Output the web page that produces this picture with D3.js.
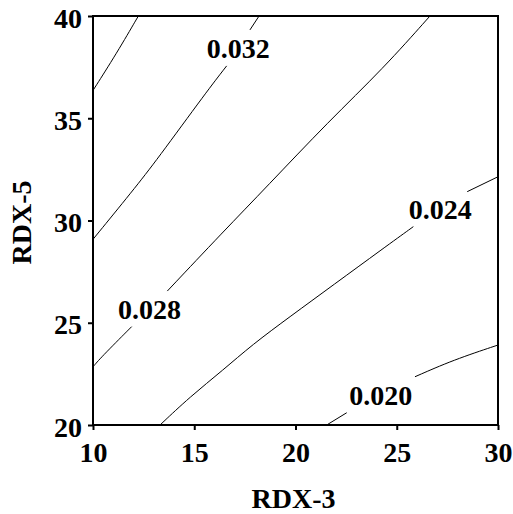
<!DOCTYPE html>
<html>
<head>
<meta charset="utf-8">
<script src="https://cdn.jsdelivr.net/npm/d3@7"></script>
<style>
  body { margin: 0; background: #fff; }
  text { font-family: "Liberation Serif", "Times New Roman", serif; font-weight: bold; fill: #000; }
</style>
</head>
<body>
<div id="chart"></div>
<script>
// contour lines, [RDX-3, RDX-5]; null = gap where the label sits
const contour036 = [[10, 36.36], [11.17, 38.18], [12.24, 40]];
const contour032 = [[10, 29.08], [11.99, 31.49], [13.15, 32.96], [15.61, 36.30], [16.60, 37.56], null, [17.75, 39.32], [18.20, 40]];
const contour028 = [[10, 22.84], [10.35, 23.26], [11.91, 24.81], null, [13.67, 26.55], [16.43, 29.45], [18.58, 31.65], [21.62, 34.83], [24.34, 37.44], [26.64, 40]];
const contour024 = [[13.31, 20], [14.79, 21.38], [16.43, 22.69], [17.84, 23.91], [19.73, 25.30], [21.87, 26.85], [24.34, 28.64], [25.82, 29.70], null, [28.48, 31.41], [30, 32.14]];
const contour020 = [[21.54, 20], [22.53, 20.60], null, [25.90, 22.36], [27.79, 23.18], [30, 23.91]];

const levels = [0.036, 0.032, 0.028, 0.024, 0.020];
const contourLines = [contour036, contour032, contour028, contour024, contour020];

const xTicks = [10, 15, 20, 25, 30];
const yTicks = [20, 25, 30, 35, 40];

const width = 513, height = 514;
const margin = {top: 16, right: 15, bottom: 89, left: 93};

const svg = d3.select("#chart").append("svg")
  .attr("width", width)
  .attr("height", height);

const x = d3.scaleLinear().domain([10, 30]).range([margin.left, width - margin.right]);
const y = d3.scaleLinear().domain([20, 40]).range([height - margin.bottom, margin.top]);

// contour lines
const line = d3.line()
  .defined(d => d)
  .x(d => x(d[0]))
  .y(d => y(d[1]))
  .curve(d3.curveBasis);

svg.append("g")
  .selectAll("path")
  .data(contourLines)
  .join("path")
  .attr("d", line)
  .attr("fill", "none")
  .attr("stroke", "#000")
  .attr("stroke-width", 1);

// labels go in the middle of each gap
const fmt = d3.format(".3f");
const labels = [];
contourLines.forEach((pts, i) => {
  const k = pts.indexOf(null);
  if (k < 0) return;
  const a = pts[k - 1], b = pts[k + 1];
  labels.push({text: fmt(levels[i]), px: (a[0] + b[0]) / 2, py: (a[1] + b[1]) / 2});
});

svg.append("g")
  .selectAll("text")
  .data(labels)
  .join("text")
  .attr("x", d => x(d.px))
  .attr("y", d => y(d.py))
  .attr("dy", "0.36em")
  .attr("text-anchor", "middle")
  .style("font-size", "28px")
  .text(d => d.text);

// axes
const xAxis = svg.append("g")
  .attr("transform", `translate(0,${height - margin.bottom})`)
  .call(d3.axisBottom(x).tickValues(xTicks).tickSize(5).tickPadding(12));

const yAxis = svg.append("g")
  .attr("transform", `translate(${margin.left},0)`)
  .call(d3.axisLeft(y).tickValues(yTicks).tickSize(5).tickPadding(6));

[xAxis, yAxis].forEach(g => {
  g.select(".domain").remove();
  g.selectAll("line").attr("stroke", "#000").attr("stroke-width", 2);
  g.selectAll("text")
    .style("font-size", "28px")
    .style("font-family", "'Liberation Serif', 'Times New Roman', serif")
    .style("font-weight", "bold");
});
yAxis.selectAll("text").attr("dy", "0.4em");

// frame
svg.append("rect")
  .attr("x", x(10))
  .attr("y", y(40))
  .attr("width", x(30) - x(10))
  .attr("height", y(20) - y(40))
  .attr("fill", "none")
  .attr("stroke", "#000")
  .attr("stroke-width", 2);

// axis titles
svg.append("text")
  .attr("x", (x(10) + x(30)) / 2 - 2)
  .attr("y", 508)
  .attr("text-anchor", "middle")
  .style("font-size", "28px")
  .text("RDX-3");

svg.append("text")
  .attr("transform", `translate(31,${(y(20) + y(40)) / 2 + 2}) rotate(-90)`)
  .attr("text-anchor", "middle")
  .style("font-size", "28px")
  .text("RDX-5");
</script>
</body>
</html>
